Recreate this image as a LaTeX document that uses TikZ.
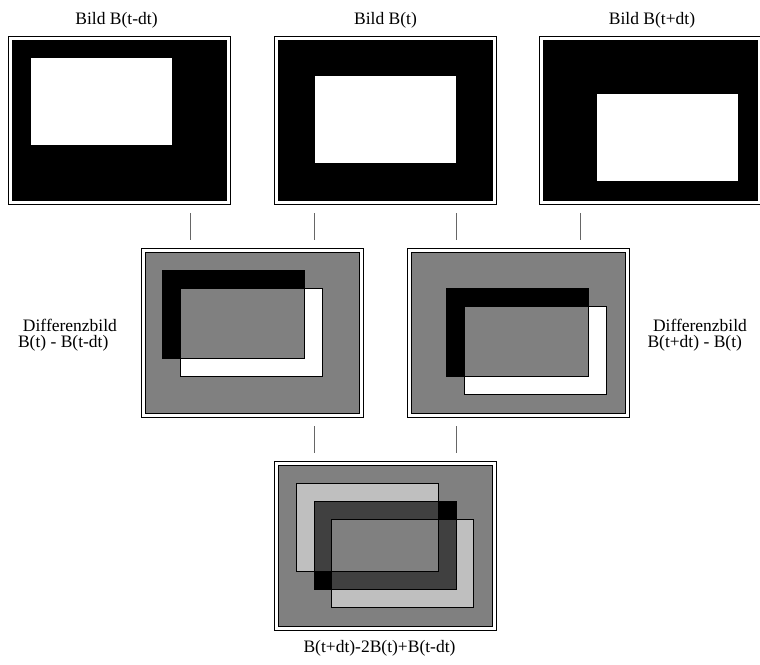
\documentclass[tikz,border=0pt]{standalone}
\usepackage{fontspec}
\setmainfont{Liberation Serif}
\begin{document}
\begin{tikzpicture}[x=1pt,y=-1pt,
  every node/.style={inner sep=0pt, outer sep=0pt},
  outerframe/.style={draw=black, line width=1pt, fill=white, minimum width=222pt, minimum height=168.5pt, anchor=north west},
  innerframe/.style={draw=black, line width=0.9pt, minimum width=214pt, minimum height=160.7pt, anchor=north west, fill=#1},
  blob/.style={draw=black, line width=0.8pt, minimum width=142pt, minimum height=88pt, anchor=north west, fill=#1},
  outline/.style={draw=black, line width=0.8pt, minimum width=142pt, minimum height=88pt, anchor=north west},
  tickline/.style={draw=black!60, line width=1pt},
  lbl/.style={font=\fontsize{17.5pt}{21pt}\selectfont}
]
\useasboundingbox[fill=white] (0,0) rectangle (760,664);

% ---------- top row ----------
\node[outerframe] (o1) at (8.7,36) {};
\node[innerframe=black] (f1) at (12.7,40) {};
\node[blob=white] (w1) at (30.5,57.8) {};

\node[outerframe] (o2) at (274.3,36) {};
\node[innerframe=black] (f2) at (278.3,40) {};
\node[blob=white] (w2) at (313.9,75.6) {};

\node[outerframe] (o3) at (539,36) {};
\node[innerframe=black] (f3) at (543,40) {};
\node[blob=white] (w3) at (596.4,93.4) {};

\node[lbl, anchor=base] (t1) at (116.5,24) {Bild B(t-dt)};
\node[lbl, anchor=base] (t2) at (385.5,24) {Bild B(t)};
\node[lbl, anchor=base] (t3) at (652,24) {Bild B(t+dt)};

% ---------- middle row ----------
\node[outerframe] (o4) at (141,248.7) {};
\node[innerframe=black!50] (m1) at (145,252.7) {};
\node[blob=black] (k1) at (162.8,270.5) {};
\node[blob=white] (v1) at (180.6,288.3) {};
\fill[black!50] (v1.north west) rectangle (k1.south east);
\node[outline] at (k1.north west) {};
\node[outline] at (v1.north west) {};

\node[outerframe] (o5) at (407,248.7) {};
\node[innerframe=black!50] (m2) at (411,252.7) {};
\node[blob=black] (k2) at (446.6,288.3) {};
\node[blob=white] (v2) at (464.4,306.1) {};
\fill[black!50] (v2.north west) rectangle (k2.south east);
\node[outline] at (k2.north west) {};
\node[outline] at (v2.north west) {};

\node[lbl, anchor=base west] (d1a) at (23,331) {Differenzbild};
\node[lbl, anchor=base west] (d1b) at (18,347) {B(t) - B(t-dt)};
\node[lbl, anchor=base west] (d2a) at (653,331) {Differenzbild};
\node[lbl, anchor=base west] (d2b) at (647.5,347) {B(t+dt) - B(t)};

% ---------- bottom ----------
\node[outerframe] (o6) at (274.3,461.7) {};
\node[innerframe=black!50] (b) at (278.3,465.7) {};
\node[blob=black!25!white] (l1) at (296.1,483.5) {};
\node[blob=black!25!white] (l2) at (331.7,519.1) {};
\node[blob=black!75] (dk) at (313.9,501.3) {};
\fill[black] (l1.east |- dk.north) rectangle (dk.east |- l2.north);
\fill[black] (dk.west |- l1.south) rectangle (l2.west |- dk.south);
\fill[black!50] (l2.north west) rectangle (l1.south east);
\node[outline] at (l1.north west) {};
\node[outline] at (l2.north west) {};
\node[outline] at (dk.north west) {};

\node[lbl, anchor=base] (bt) at (379.5,652) {B(t+dt)-2B(t)+B(t-dt)};

% ---------- ticks ----------
\coordinate (a1) at (190,213); \coordinate (a2) at (190,240);
\coordinate (b1) at (314,213); \coordinate (b2) at (314,240);
\coordinate (c1) at (456,213); \coordinate (c2) at (456,240);
\coordinate (e1) at (580,213); \coordinate (e2) at (580,240);
\coordinate (g1) at (314,426); \coordinate (g2) at (314,453);
\coordinate (h1) at (456,426); \coordinate (h2) at (456,453);
\draw[tickline] (a1) -- (a2);
\draw[tickline] (b1) -- (b2);
\draw[tickline] (c1) -- (c2);
\draw[tickline] (e1) -- (e2);
\draw[tickline] (g1) -- (g2);
\draw[tickline] (h1) -- (h2);
\end{tikzpicture}
\end{document}
